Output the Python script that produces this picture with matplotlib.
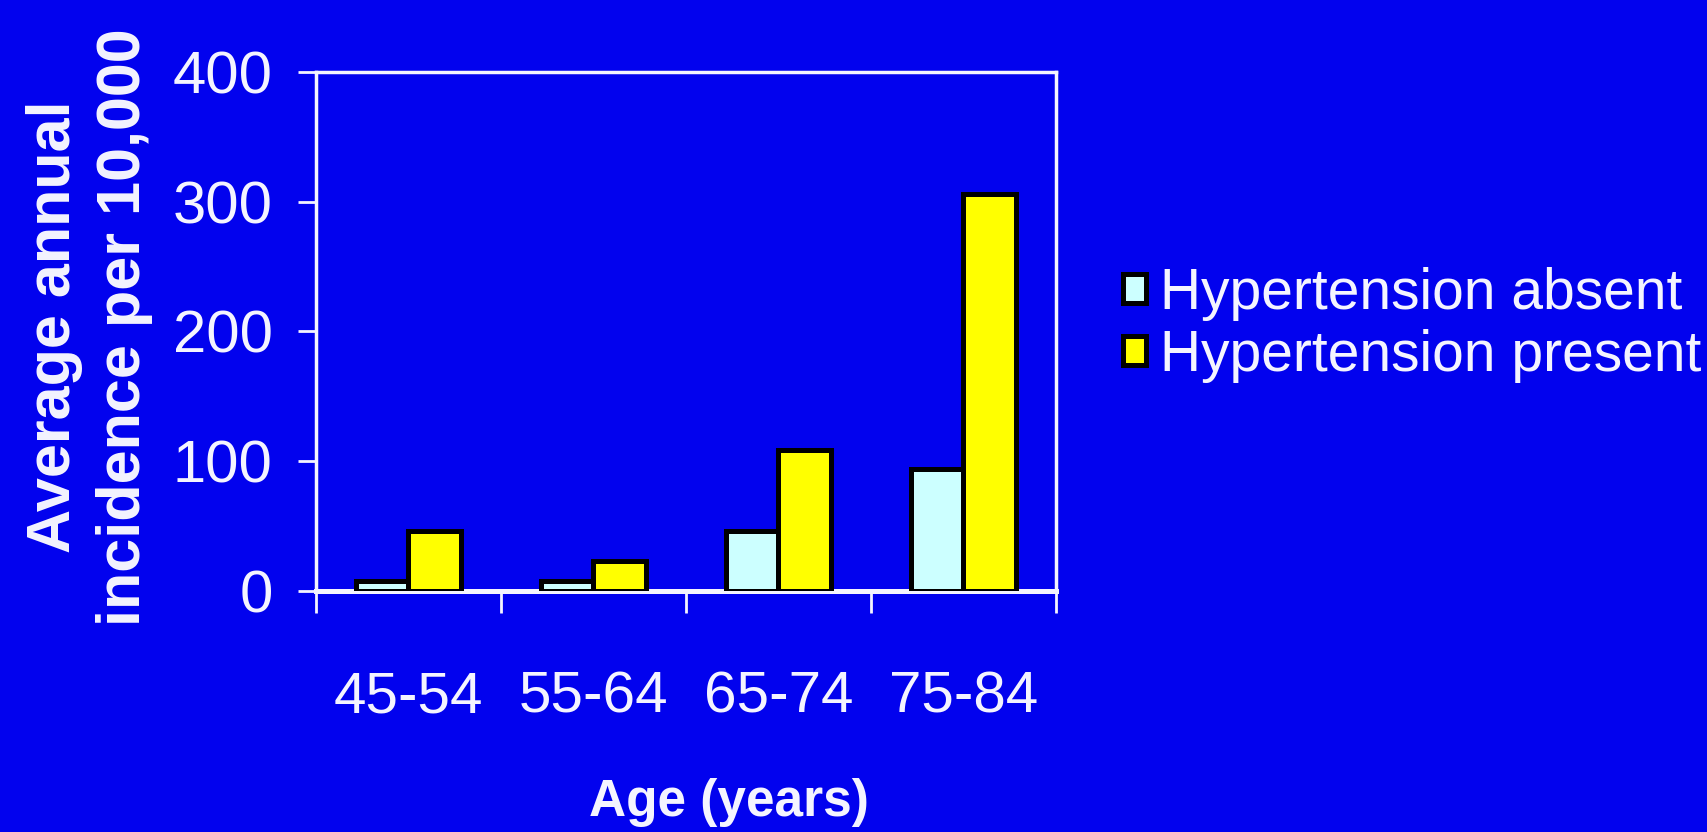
import matplotlib
matplotlib.use("Agg")
import matplotlib.pyplot as plt
from matplotlib.patches import Patch
import numpy as np

plt.rcParams['font.family'] = ['Liberation Sans', 'DejaVu Sans']

# Data
age_groups = ["45-54", "55-64", "65-74", "75-84"]
series_names = ["Hypertension absent", "Hypertension present"]
absent = [8, 8, 46, 94]
present = [46, 23, 109, 306]
y_ticks = [0, 100, 200, 300, 400]

BG = "#0202EE"
C_ABSENT = "#CCFFFF"
C_PRESENT = "#FFFF00"
WHITE = "#F4F4FF"

fig = plt.figure(figsize=(17.07, 8.32), dpi=100, facecolor=BG)
ax = fig.add_axes([0.185, 0.2897, 0.4335, 0.6238], facecolor=BG)

x = np.arange(len(age_groups))
w = 0.285
ax.bar(x - w / 2, absent, w, color=C_ABSENT, edgecolor="black", linewidth=3.6, zorder=3)
ax.bar(x + w / 2, present, w, color=C_PRESENT, edgecolor="black", linewidth=3.6, zorder=3)

ax.set_xlim(-0.5, len(age_groups) - 0.5)
ax.set_ylim(0, 400)

for side in ["top", "right", "left"]:
    ax.spines[side].set_color(WHITE)
    ax.spines[side].set_linewidth(2.5)
ax.spines["bottom"].set_color(WHITE)
ax.spines["bottom"].set_linewidth(3.6)
ax.spines["bottom"].set_zorder(2)

ax.set_yticks(y_ticks)
ax.set_yticklabels([str(v) for v in y_ticks])
ax.tick_params(axis="y", colors=WHITE, length=13, width=2, pad=18, labelsize=43)

ax.set_xticks(x)
ax.set_xticklabels(age_groups)
ax.set_xticks(np.arange(-0.5, len(age_groups)), minor=True)
ax.tick_params(axis="x", which="major", length=0, pad=57, colors=WHITE, labelsize=42)
ax.tick_params(axis="x", which="minor", length=16, width=2, colors=WHITE, direction="out")

fig.text(0.4273, 0.036, "Age (years)", color=WHITE, fontsize=37, fontweight="bold",
         ha="center", va="center")
fig.text(0.0526, 0.607, "Average annual\nincidence per 10,000", color=WHITE, fontsize=44,
         fontweight="bold", rotation=90, ha="center", va="center", linespacing=1.3)

handles = [Patch(facecolor=C_ABSENT, edgecolor="black", linewidth=3.6),
           Patch(facecolor=C_PRESENT, edgecolor="black", linewidth=3.6)]
leg = fig.legend(handles, series_names, loc="center left", bbox_to_anchor=(0.658, 0.6095),
                 frameon=False, fontsize=41, handlelength=0.4, handleheight=0.4,
                 handletextpad=0.25, labelspacing=0.15, borderaxespad=0, borderpad=0)
for t in leg.get_texts():
    t.set_color(WHITE)

fig.savefig("out.png", dpi=100, facecolor=BG)
